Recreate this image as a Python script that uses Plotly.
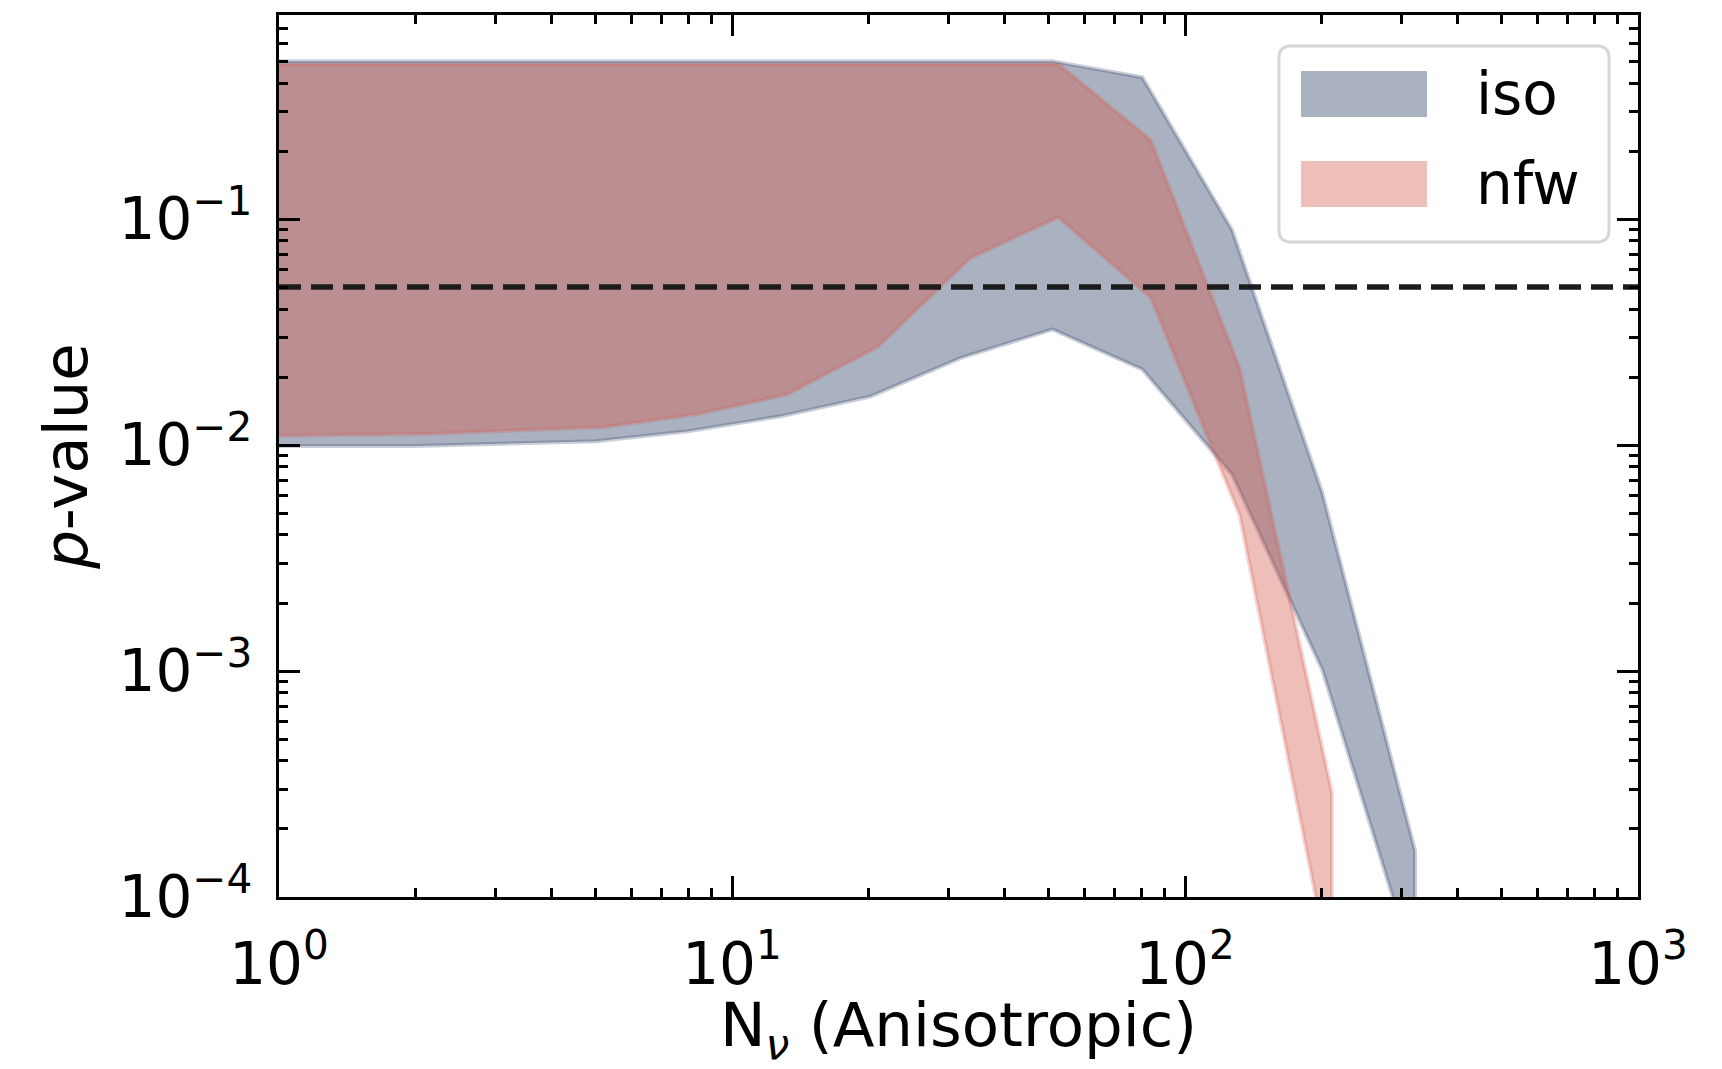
import math
import plotly.graph_objects as go

# p-value envelopes versus the anisotropic sample size, one band per halo profile
iso_n = [1, 2, 5, 8, 12.8, 20.2, 32, 51, 80.5, 127, 201, 322]
iso_p_low = [0.0099, 0.0099, 0.0104, 0.0115, 0.0134, 0.0164, 0.0243, 0.0325,
             0.0216, 0.0074, 0.00101, 4.8e-5]
iso_p_high = [0.50, 0.50, 0.50, 0.50, 0.50, 0.50, 0.50, 0.50,
              0.424, 0.0897, 0.00614, 1.6e-4]

nfw_n = [1, 2.1, 5.2, 8.4, 13.2, 21, 33.5, 52.5, 84, 132, 211]
nfw_p_low = [0.0110, 0.0112, 0.0120, 0.0137, 0.0167, 0.0272, 0.067, 0.102,
             0.045, 0.0049, 4.4e-5]
nfw_p_high = [0.485, 0.485, 0.485, 0.485, 0.485, 0.485, 0.485, 0.485,
              0.224, 0.0219, 2.9e-4]

significance = 0.05

x_limits = [1, 1000]
y_limits = [1e-4, 0.80]

x_tick_vals = [1, 10, 100, 1000]
x_tick_text = ["10<sup>0</sup>", "10<sup>1</sup>", "10<sup>2</sup>", "10<sup>3</sup>"]
y_tick_vals = [1e-4, 1e-3, 1e-2, 1e-1]
y_tick_text = ["10<sup>\u22124</sup>", "10<sup>\u22123</sup>",
               "10<sup>\u22122</sup>", "10<sup>\u22121</sup>"]

series = [
    ("iso", iso_n, iso_p_low, iso_p_high, (43, 60, 98)),
    ("nfw", nfw_n, nfw_p_low, nfw_p_high, (212, 92, 78)),
]
ALPHA = 0.4
EDGE_ALPHA = 0.25

FONT = "DejaVu Sans"
FS = 58

# figure / plot-area geometry in pixels
W, H = 1722, 1069
L, R, T, B = 279, 1638, 15, 897


def paper_x(px):
    return (px - L) / (R - L)


def paper_y(py):
    return (B - py) / (B - T)


def rgba(c, a):
    return f"rgba({c[0]},{c[1]},{c[2]},{a})"


fig = go.Figure()

for name, n, lo, hi, col in series:
    # closed band: upper edge left->right, lower edge right->left
    fig.add_trace(go.Scatter(
        x=list(n) + list(n)[::-1],
        y=list(hi) + list(lo)[::-1],
        mode="lines",
        fill="toself",
        fillcolor=rgba(col, ALPHA),
        line=dict(color=rgba(col, EDGE_ALPHA), width=4),
        name=name,
        showlegend=False,
        hoverinfo="skip",
    ))

# significance threshold across the full x extent
fig.add_trace(go.Scatter(
    x=x_limits,
    y=[significance, significance],
    mode="lines",
    line=dict(color="rgb(28,28,28)", width=5.5, dash="22px,10px"),
    showlegend=False,
    hoverinfo="skip",
))

minor_x = [k * 10 ** d for d in range(0, 3) for k in range(2, 10)]
minor_y = [k * 10.0 ** d for d in range(-4, 0) for k in range(2, 10)
           if k * 10.0 ** d < y_limits[1]]

axis_common = dict(
    type="log",
    showline=True,
    linecolor="black",
    linewidth=3.3,
    mirror="allticks",
    ticks="inside",
    ticklen=21,
    tickwidth=3.3,
    tickcolor="black",
    showgrid=False,
    zeroline=False,
    tickfont=dict(family=FONT, size=FS, color="black"),
    title_font=dict(family=FONT, size=61, color="black"),
)

fig.update_xaxes(
    **axis_common,
    range=[math.log10(x_limits[0]), math.log10(x_limits[1])],
    tickvals=x_tick_vals,
    ticktext=x_tick_text,
    ticklabelstandoff=14,
    minor=dict(ticks="inside", ticklen=9, tickwidth=2.5, tickcolor="black",
               tickvals=minor_x, showgrid=False),
    title=dict(text="N<sub><i>\u03bd</i></sub> (Anisotropic)", standoff=14),
)
fig.update_yaxes(
    **axis_common,
    range=[math.log10(y_limits[0]), math.log10(y_limits[1])],
    tickvals=y_tick_vals,
    ticktext=y_tick_text,
    ticklabelstandoff=12,
    minor=dict(ticks="inside", ticklen=9, tickwidth=2.5, tickcolor="black",
               tickvals=minor_y, showgrid=False),
    title=dict(text="<i>p</i>-value", standoff=12),
)

shapes = []

# legend frame with rounded corners
lx0, lx1, ly0, ly1, rad = 1279, 1609, 46, 242, 12
rx = rad / (R - L)
ry = rad / (B - T)
X0, X1, Y0, Y1 = paper_x(lx0), paper_x(lx1), paper_y(ly1), paper_y(ly0)
path = (f"M {X0 + rx},{Y1} L {X1 - rx},{Y1} Q {X1},{Y1} {X1},{Y1 - ry} "
        f"L {X1},{Y0 + ry} Q {X1},{Y0} {X1 - rx},{Y0} "
        f"L {X0 + rx},{Y0} Q {X0},{Y0} {X0},{Y0 + ry} "
        f"L {X0},{Y1 - ry} Q {X0},{Y1} {X0 + rx},{Y1} Z")
shapes.append(dict(type="path", xref="paper", yref="paper", path=path,
                   fillcolor="rgba(255,255,255,0.8)",
                   line=dict(color="rgb(214,214,214)", width=3), layer="above"))

annotations = []
entry_rows = [(71, 117), (161, 207)]
for (name, n, lo, hi, col), (ey0, ey1) in zip(series, entry_rows):
    shapes.append(dict(type="rect", xref="paper", yref="paper",
                       x0=paper_x(1301), x1=paper_x(1427),
                       y0=paper_y(ey1), y1=paper_y(ey0),
                       fillcolor=rgba(col, ALPHA), line=dict(width=0),
                       layer="above"))
    annotations.append(dict(xref="paper", yref="paper",
                            x=paper_x(1474), y=paper_y((ey0 + ey1) / 2),
                            xanchor="left", yanchor="middle", showarrow=False,
                            text=name, font=dict(family=FONT, size=FS, color="black")))

fig.update_layout(
    width=W, height=H,
    margin=dict(l=L, r=W - R, t=T, b=H - B, pad=0),
    paper_bgcolor="white",
    plot_bgcolor="white",
    shapes=shapes,
    annotations=annotations,
    showlegend=False,
)

fig.write_html("out.html")
